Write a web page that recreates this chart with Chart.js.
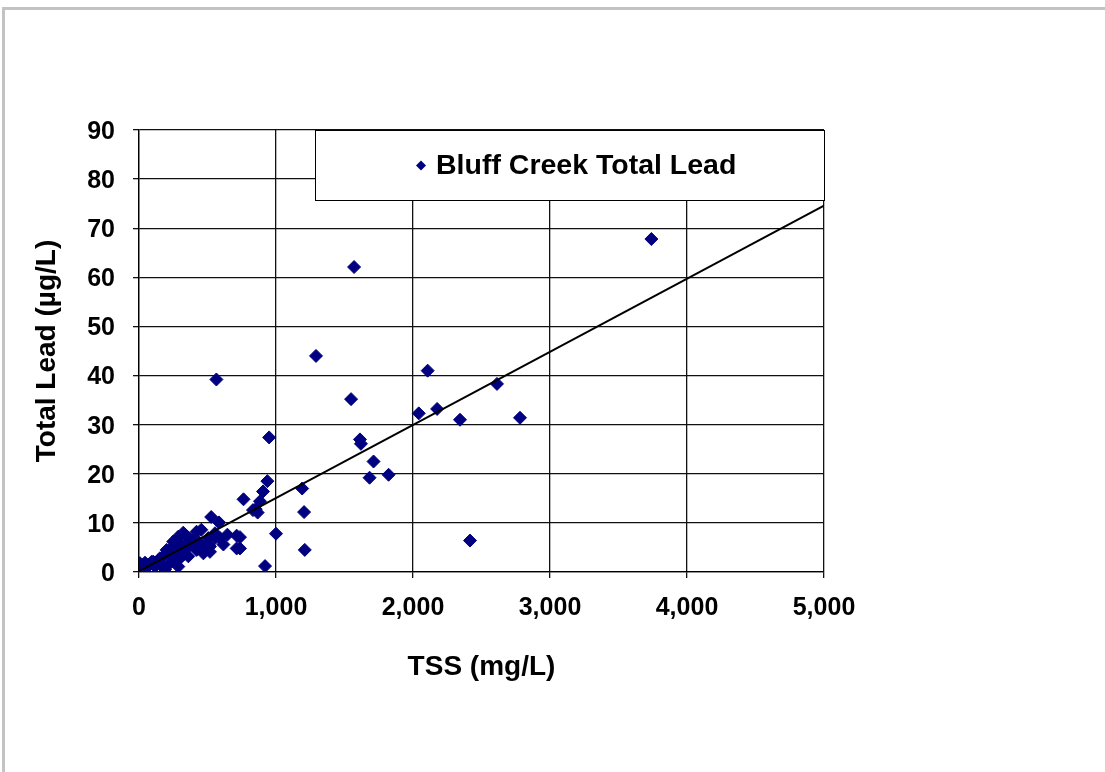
<!DOCTYPE html>
<html>
<head>
<meta charset="utf-8">
<title>Bluff Creek Total Lead</title>
<script src="https://cdn.jsdelivr.net/npm/chart.js@4"></script>
<style>
  html, body { margin: 0; padding: 0; background: #fff; overflow: hidden; }
  #frame {
    position: absolute; left: 2px; top: 7px; width: 1120px; height: 780px;
    border-top: 3px solid #c3c3c3; border-left: 3px solid #c3c3c3;
  }
  #wrap { position: absolute; left: 0; top: 0; width: 1105px; height: 772px; }
</style>
</head>
<body>
<div id="frame"></div>
<div id="wrap"><canvas id="leadChart" width="1105" height="772"></canvas></div>
<script>
// TSS (mg/L) vs total lead (ug/L)
const tss = [
  3740, 1570, 565, 1292, 2107, 1548, 2613, 2042, 2176, 2343,
  2781, 950, 1613, 1620, 1712, 1683, 1822, 2416, 1191, 1205,
  1210, 1000, 920, 937, 905, 883, 763, 832, 852, 866,
  737, 737, 527, 584, 455, 420, 555, 645, 713, 506,
  591, 555, 385, 372, 323, 287, 287, 250, 616, 494,
  518, 372, 421, 421, 713, 518, 470, 336, 323, 263,
  311, 202, 190, 226, 299, 250, 226, 166, 153, 141,
  104, 93, 44, 7, 0, 44, 117, 190, 287, 178,
  56, 10, 20, 30, 70, 345, 400, 440, 360, 240
];
const lead = [
  67.8, 62.1, 39.2, 44.0, 41.0, 35.2, 38.3, 32.3, 33.2, 31.0,
  31.4, 27.4, 27.0, 26.1, 22.5, 19.2, 19.8, 6.4, 17.0, 12.2,
  4.5, 7.8, 1.2, 18.5, 16.4, 14.4, 14.8, 12.6, 12.8, 12.1,
  7.1, 4.8, 11.2, 10.1, 8.6, 8.2, 7.9, 7.6, 7.4, 6.9,
  6.9, 6.9, 6.5, 6.2, 8.0, 7.2, 6.2, 6.2, 5.6, 5.5,
  5.2, 5.5, 4.8, 4.5, 4.8, 4.1, 3.8, 4.5, 3.5, 4.1,
  5.2, 4.5, 3.5, 3.8, 2.8, 2.8, 1.8, 1.4, 2.8, 2.4,
  2.1, 2.1, 1.9, 1.8, 0.4, 0.5, 1.1, 0.5, 1.1, 1.1,
  1.1, 0.2, 1.0, 0.8, 1.5, 7.4, 5.9, 6.0, 3.2, 5.0
];

// linear trend line end points
const trendX = [0, 5000];
const trendY = [0.2, 74.6];

const xTicks = [0, 1000, 2000, 3000, 4000, 5000];
const yTicks = [0, 10, 20, 30, 40, 50, 60, 70, 80, 90];

const seriesName = 'Bluff Creek Total Lead';
const navy = '#000080';
const fontFamily = '"Liberation Sans", Arial, sans-serif';

// legend drawn as a white box inside the plot, like the original
const legendBox = {
  id: 'legendBox',
  beforeDatasetsDraw(chart) {
    const { ctx, chartArea } = chart;
    const left = chartArea.left + 176;
    const top = chartArea.top;
    const w = chartArea.right - left + 1;
    const h = 71;
    ctx.save();
    ctx.fillStyle = '#fff';
    ctx.fillRect(left, top, w, h);
    ctx.strokeStyle = '#000';
    ctx.lineWidth = 1;
    ctx.strokeRect(left + 0.5, top + 0.5, w - 1, h - 1);
    const cy = top + h / 2;
    const mx = left + 106;
    ctx.fillStyle = navy;
    ctx.beginPath();
    ctx.moveTo(mx, cy - 5);
    ctx.lineTo(mx + 5, cy);
    ctx.lineTo(mx, cy + 5);
    ctx.lineTo(mx - 5, cy);
    ctx.closePath();
    ctx.fill();
    ctx.fillStyle = '#000';
    ctx.font = 'bold 28.5px ' + fontFamily;
    ctx.textBaseline = 'middle';
    ctx.fillText(chart.data.datasets[0].label, left + 121, cy + 1);
    ctx.restore();
  }
};

const ctx = document.getElementById('leadChart').getContext('2d');
const chart = new Chart(ctx, {
  type: 'scatter',
  data: {
    datasets: [
      {
        label: seriesName,
        data: tss.map((x, i) => ({ x: x, y: lead[i] })),
        pointStyle: 'rectRot',
        pointRadius: 6.5,
        pointBackgroundColor: navy,
        pointBorderColor: navy,
        pointBorderWidth: 1,
        order: 2
      },
      {
        label: 'Linear',
        type: 'line',
        data: trendX.map((x, i) => ({ x: x, y: trendY[i] })),
        borderColor: '#000',
        borderWidth: 2,
        pointRadius: 0,
        fill: false,
        order: 1
      }
    ]
  },
  options: {
    responsive: false,
    animation: false,
    layout: { padding: { left: 26, right: 281, top: 130, bottom: 84 } },
    plugins: {
      legend: { display: false },
      tooltip: { enabled: false }
    },
    scales: {
      x: {
        type: 'linear',
        min: 0,
        max: 5000,
        afterBuildTicks: (scale) => { scale.ticks = xTicks.map(v => ({ value: v })); },
        afterFit: (scale) => { scale.height = 116; },
        ticks: {
          color: '#000',
          padding: 15,
          maxRotation: 0,
          font: { family: fontFamily, size: 25, weight: 'bold' },
          callback: (v) => v.toLocaleString('en-US')
        },
        grid: { color: '#111', lineWidth: 1.3, tickLength: 6 },
        border: { color: '#000', width: 1.3 },
        title: {
          display: true,
          text: 'TSS (mg/L)',
          color: '#000',
          padding: 4,
          font: { family: fontFamily, size: 28, weight: 'bold' }
        }
      },
      y: {
        min: 0,
        max: 90,
        afterBuildTicks: (scale) => { scale.ticks = yTicks.map(v => ({ value: v })); },
        afterFit: (scale) => { scale.width = 113; },
        ticks: {
          color: '#000',
          padding: 18,
          labelOffset: 2,
          font: { family: fontFamily, size: 25, weight: 'bold' }
        },
        grid: { color: '#111', lineWidth: 1.3, tickLength: 6 },
        border: { color: '#000', width: 1.3 },
        title: {
          display: true,
          text: 'Total Lead (µg/L)',
          color: '#000',
          padding: 4,
          font: { family: fontFamily, size: 28, weight: 'bold' }
        }
      }
    }
  },
  plugins: [legendBox]
});
</script>
</body>
</html>
